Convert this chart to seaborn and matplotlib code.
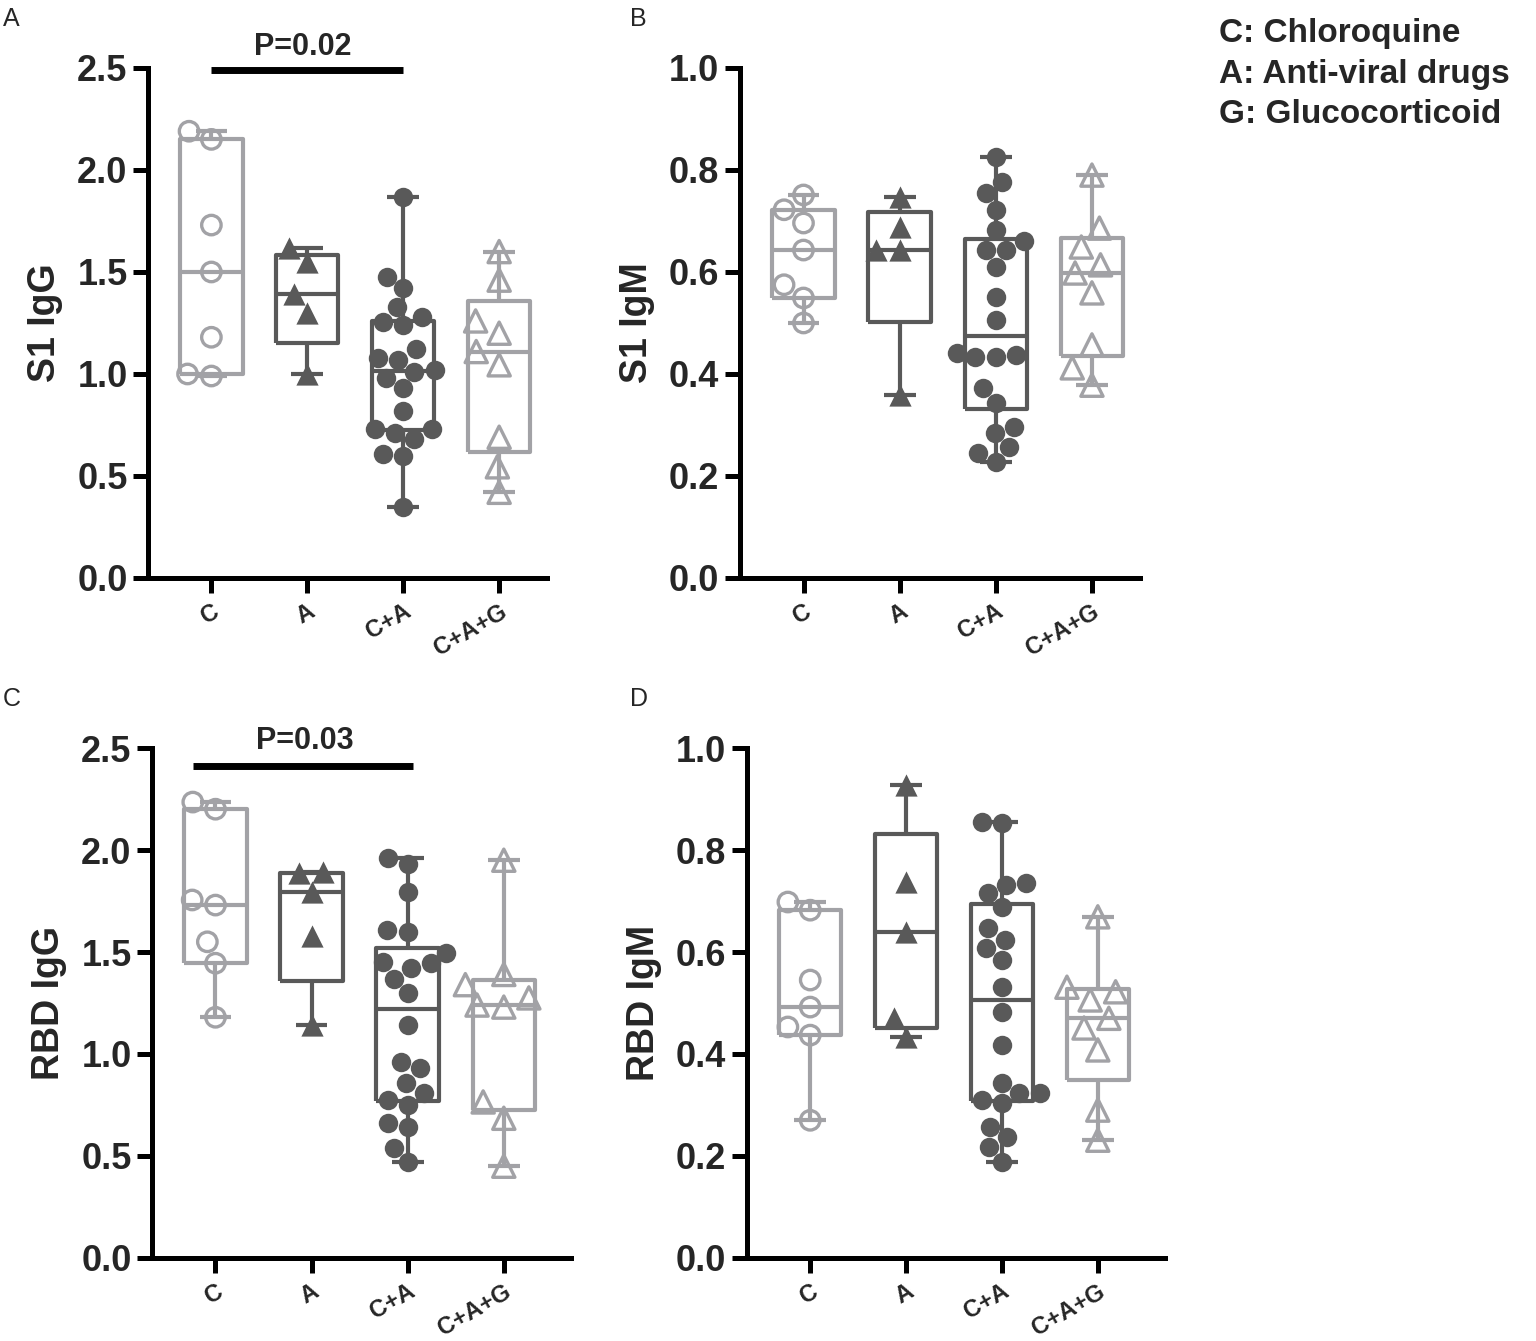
import numpy as np
import pandas as pd
import matplotlib
matplotlib.use("Agg")
import matplotlib.pyplot as plt
import matplotlib.transforms as mtransforms
import seaborn as sns

groups = ["C", "A", "C+A", "C+A+G"]

# panel A: S1 IgG
s1_igg_c = [2.19, 2.15, 1.73, 1.50, 1.18, 1.00, 0.99]
s1_igg_a = [1.62, 1.55, 1.39, 1.30, 1.00]
s1_igg_ca = [1.87, 1.475, 1.42, 1.33, 1.28, 1.255, 1.24, 1.12, 1.08, 1.07, 1.02,
             1.01, 0.98, 0.93, 0.82, 0.73, 0.73, 0.71, 0.68, 0.61, 0.60, 0.35]
s1_igg_cag = [1.60, 1.46, 1.26, 1.20, 1.11, 1.045, 0.69, 0.545, 0.42]

# panel B: S1 IgM
s1_igm_c = [0.751, 0.722, 0.696, 0.643, 0.575, 0.549, 0.500]
s1_igm_a = [0.747, 0.688, 0.643, 0.643, 0.359]
s1_igm_ca = [0.826, 0.777, 0.755, 0.722, 0.682, 0.660, 0.643, 0.643, 0.610, 0.551, 0.506,
             0.441, 0.437, 0.434, 0.434, 0.373, 0.343, 0.296, 0.284, 0.257, 0.245, 0.228]
s1_igm_cag = [0.790, 0.686, 0.649, 0.614, 0.598, 0.559, 0.457, 0.412, 0.378]

# panel C: RBD IgG
rbd_igg_c = [2.235, 2.20, 1.755, 1.73, 1.55, 1.445, 1.18]
rbd_igg_a = [1.89, 1.887, 1.795, 1.58, 1.14]
rbd_igg_ca = [1.96, 1.93, 1.795, 1.61, 1.60, 1.495, 1.45, 1.445, 1.42, 1.37, 1.30,
              1.14, 0.96, 0.93, 0.86, 0.81, 0.775, 0.75, 0.66, 0.64, 0.54, 0.47]
rbd_igg_cag = [1.95, 1.39, 1.34, 1.275, 1.24, 1.23, 0.765, 0.685, 0.45]

# panel D: RBD IgM
rbd_igm_c = [0.698, 0.682, 0.545, 0.492, 0.453, 0.437, 0.27]
rbd_igm_a = [0.927, 0.737, 0.639, 0.47, 0.433]
rbd_igm_ca = [0.855, 0.853, 0.735, 0.732, 0.715, 0.688, 0.647, 0.624, 0.608, 0.584, 0.531,
              0.482, 0.418, 0.343, 0.324, 0.324, 0.31, 0.304, 0.257, 0.237, 0.218, 0.188]
rbd_igm_cag = [0.669, 0.531, 0.522, 0.506, 0.47, 0.451, 0.408, 0.29, 0.231]

legend_lines = ["C: Chloroquine", "A: Anti-viral drugs", "G: Glucocorticoid"]

LIGHT = "#a2a2a6"
DARK = "#595959"
# colour, marker, filled
styles = {"C": (LIGHT, "o", False), "A": (DARK, "^", True),
          "C+A": (DARK, "o", True), "C+A+G": (LIGHT, "^", False)}

sns.set_style("ticks")
plt.rcParams['font.family'] = ['Liberation Sans', 'DejaVu Sans']


def draw_panel(ax, values, ylabel, ymax, step, xright):
    for i, g in enumerate(groups):
        color, marker, filled = styles[g]
        vals = np.asarray(values[i], dtype=float)
        # Prism style quartiles
        q1, med, q3 = np.percentile(vals, [25, 50, 75], method="weibull")
        stats = [dict(med=med, q1=q1, q3=q3, whislo=vals.min(), whishi=vals.max(), fliers=[])]
        line = dict(color=color, linewidth=3, solid_capstyle="butt")
        ax.bxp(stats, positions=[i], widths=0.65, capwidths=0.33, showfliers=False,
               boxprops=line, medianprops=line, whiskerprops=line, capprops=line,
               manage_ticks=False)
        sub = pd.DataFrame({"pos": float(i), "value": vals})
        sns.swarmplot(data=sub, x="pos", y="value", native_scale=True, orient="v",
                      color=color, marker=marker, size=14 if marker == "o" else 16,
                      linewidth=0, ax=ax, zorder=3, warn_thresh=1)
        coll = ax.collections[-1]
        coll.set_clip_on(False)
        if not filled:
            coll.set_facecolor("none")
            coll.set_edgecolor(color)
            coll.set_linewidth(2.4)

    ax.set_xlim(-0.66, xright)
    ax.set_ylim(0, ymax)
    ax.set_yticks(np.arange(0, ymax + 1e-9, step))
    ax.set_yticklabels([f"{t:.1f}" for t in np.arange(0, ymax + 1e-9, step)],
                       fontsize=26, fontweight="bold")
    ax.set_xticks(range(len(groups)))
    ax.set_xticklabels(groups, rotation=30, ha="right", rotation_mode="anchor",
                       fontsize=17, fontweight="bold")
    offset = mtransforms.ScaledTranslation(10 / 100, 0, ax.figure.dpi_scale_trans)
    for lab in ax.get_xticklabels():
        lab.set_transform(lab.get_transform() + offset)
    ax.set_xlabel("")
    ax.set_ylabel(ylabel, fontsize=27, fontweight="bold", labelpad=10)
    sns.despine(ax=ax)
    for side in ["left", "bottom"]:
        ax.spines[side].set_linewidth(3.6)
        ax.spines[side].set_color("black")
    ax.tick_params(axis="both", width=3.6, length=10.8, color="black", direction="out")
    ax.tick_params(axis="x", pad=5)
    ax.tick_params(axis="y", pad=4)
    ax.grid(False)


fig = plt.figure(figsize=(15.36, 13.41), dpi=100)
ax_a = fig.add_axes([0.0964, 0.569, 0.2598, 0.3803])
ax_b = fig.add_axes([0.4818, 0.569, 0.2604, 0.3803])
ax_c = fig.add_axes([0.0990, 0.0619, 0.2728, 0.3803])
ax_d = fig.add_axes([0.4863, 0.0619, 0.2721, 0.3803])

draw_panel(ax_a, [s1_igg_c, s1_igg_a, s1_igg_ca, s1_igg_cag], "S1 IgG", 2.5, 0.5, 3.5)
draw_panel(ax_b, [s1_igm_c, s1_igm_a, s1_igm_ca, s1_igm_cag], "S1 IgM", 1.0, 0.2, 3.5)
draw_panel(ax_c, [rbd_igg_c, rbd_igg_a, rbd_igg_ca, rbd_igg_cag], "RBD IgG", 2.5, 0.5, 3.7)
draw_panel(ax_d, [rbd_igm_c, rbd_igm_a, rbd_igm_ca, rbd_igm_cag], "RBD IgM", 1.0, 0.2, 3.7)

# significance bars
ax_a.plot([0, 2], [2.49, 2.49], color="black", lw=5, clip_on=False, solid_capstyle="butt")
ax_a.text(0.95, 2.53, "P=0.02", ha="center", va="bottom", fontsize=22, fontweight="bold")
ax_c.plot([-0.23, 2.05], [2.41, 2.41], color="black", lw=5, clip_on=False, solid_capstyle="butt")
ax_c.text(0.93, 2.46, "P=0.03", ha="center", va="bottom", fontsize=22, fontweight="bold")

# panel letters
for lbl, x, y in [("A", 0.002, 0.995), ("B", 0.410, 0.995), ("C", 0.002, 0.488), ("D", 0.410, 0.488)]:
    fig.text(x, y, lbl, ha="left", va="top", fontsize=18)

for k, txt in enumerate(legend_lines):
    fig.text(0.7936, 0.975 - k * 0.0302, txt, ha="left", va="center", fontsize=24, fontweight="bold")

fig.savefig("out.png", dpi=100)
